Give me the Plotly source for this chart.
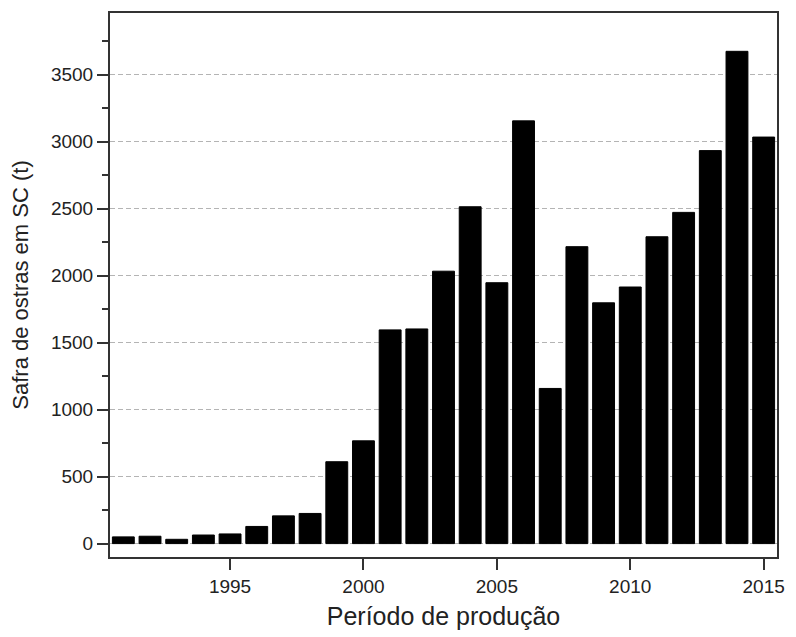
import plotly.graph_objects as go

# Oyster harvest in Santa Catarina by year (tonnes)
anos = list(range(1991, 2016))
safra_t = [50, 55, 32, 64, 72, 128, 207, 225, 611, 767,
           1595, 1602, 2033, 2514, 1947, 3155, 1158, 2216, 1797, 1915,
           2290, 2472, 2933, 3674, 3034]

fonte = "Liberation Sans, Arial, sans-serif"
eixo_cor = "#333333"
texto_cor = "#222222"

fig = go.Figure(
    go.Bar(
        x=anos,
        y=safra_t,
        width=0.82,
        marker=dict(color="black", line=dict(color="black", width=1)),
    )
)

fig.update_layout(
    width=796,
    height=637,
    margin=dict(l=110, r=11, t=11, b=77),
    paper_bgcolor="white",
    plot_bgcolor="white",
    showlegend=False,
    font=dict(family=fonte, color=texto_cor),
)

fig.update_xaxes(
    range=[1990.5, 2015.5],
    tick0=1995,
    dtick=5,
    ticks="outside",
    ticklen=11,
    tickwidth=2,
    tickcolor=eixo_cor,
    tickfont=dict(size=19, family=fonte, color=texto_cor),
    showline=True,
    linecolor=eixo_cor,
    linewidth=2,
    mirror=True,
    showgrid=False,
    zeroline=False,
    title=dict(text="Período de produção", font=dict(size=25, family=fonte, color=texto_cor), standoff=12),
)

fig.update_yaxes(
    range=[-100, 3960],
    tick0=0,
    dtick=500,
    ticks="outside",
    ticklen=11,
    tickwidth=2,
    tickcolor=eixo_cor,
    tickfont=dict(size=19, family=fonte, color=texto_cor),
    minor=dict(dtick=250, ticks="outside", ticklen=6, tickwidth=2, tickcolor=eixo_cor, showgrid=False),
    showline=True,
    linecolor=eixo_cor,
    linewidth=2,
    mirror=True,
    showgrid=True,
    gridcolor="#b4b4b4",
    gridwidth=1,
    griddash="5px,3px",
    zeroline=False,
    title=dict(text="Safra de ostras em SC (t)", font=dict(size=22, family=fonte, color=texto_cor), standoff=16),
)

fig.write_html("out.html")
